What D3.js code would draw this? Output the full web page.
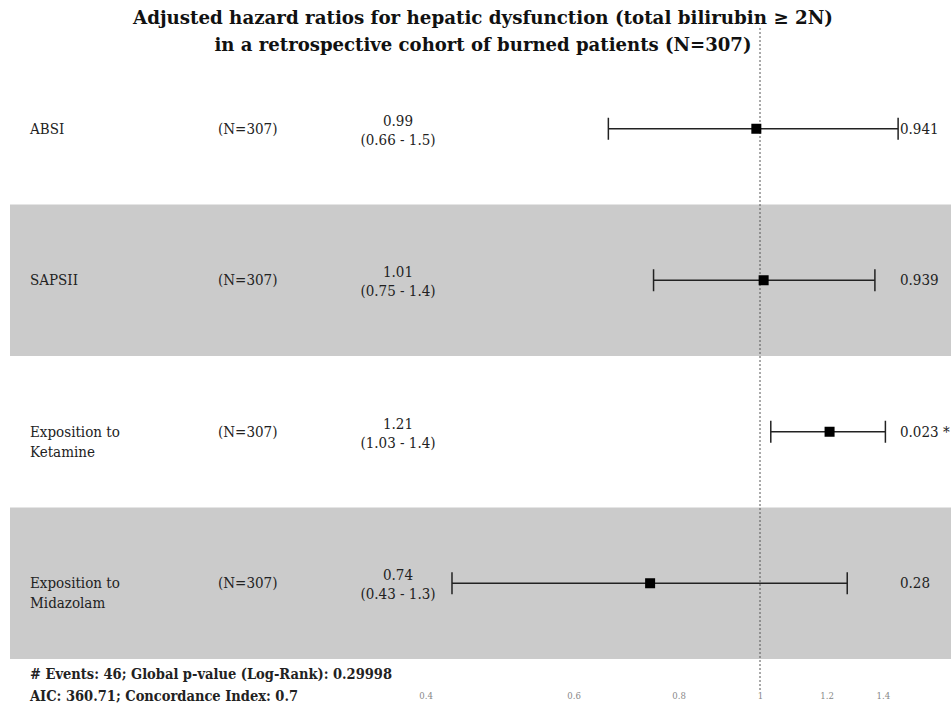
<!DOCTYPE html>
<html>
<head>
<meta charset="utf-8">
<script src="https://cdn.jsdelivr.net/npm/d3@7"></script>
<style>
  html, body { margin: 0; padding: 0; background: #fff; }
  svg { display: block; }
</style>
</head>
<body>
<svg id="chart" width="951" height="713"></svg>
<script>
// ---- data ----
const titleLines = [
  "Adjusted hazard ratios for hepatic dysfunction (total bilirubin \u2265 2N)",
  "in a retrospective cohort of burned patients (N=307)"
];
const variables = [["ABSI"], ["SAPSII"], ["Exposition to", "Ketamine"], ["Exposition to", "Midazolam"]];
const nLabels = ["(N=307)", "(N=307)", "(N=307)", "(N=307)"];
const hazardRatios = [0.99, 1.01, 1.21, 0.74];
const ciLower = [0.66, 0.747, 1.03, 0.43];
const ciUpper = [1.46, 1.37, 1.41, 1.27];
const hrLabels = ["0.99", "1.01", "1.21", "0.74"];
const ciLabels = ["(0.66 - 1.5)", "(0.75 - 1.4)", "(1.03 - 1.4)", "(0.43 - 1.3)"];
const pValues = ["0.941", "0.939", "0.023 *", "0.28"];
const tickValues = [0.4, 0.6, 0.8, 1, 1.2, 1.4];
const tickLabels = ["0.4", "0.6", "0.8", "1", "1.2", "1.4"];
const footnotes = [
  "# Events: 46; Global p-value (Log-Rank): 0.29998",
  "AIC: 360.71; Concordance Index: 0.7"
];

// ---- layout ----
const svg = d3.select("#chart");
const FONT = "'DejaVu Serif Condensed', 'DejaVu Serif', serif";

const x = d3.scaleLog().domain([0.4, 1.4]).range([425.6, 882.8]);
const y = d3.scaleBand().domain(d3.range(variables.length)).range([53, 659]).padding(0);

// bands
svg.append("g").selectAll("rect")
  .data(d3.range(variables.length))
  .join("rect")
  .attr("x", 10)
  .attr("y", i => y(i))
  .attr("width", 951)
  .attr("height", y.bandwidth())
  .attr("fill", i => i % 2 === 1 ? "#cbcbcb" : "#ffffff");

// reference line at HR = 1
svg.append("line")
  .attr("x1", x(1)).attr("x2", x(1))
  .attr("y1", 28).attr("y2", 690)
  .attr("stroke", "#555").attr("stroke-width", 1)
  .attr("stroke-dasharray", "2,2");

// title
const titleWidths = [700, 537];
svg.append("g").selectAll("text")
  .data(titleLines)
  .join("text")
  .attr("x", 483)
  .attr("y", (d, i) => 24 + i * 27)
  .attr("text-anchor", "middle")
  .attr("font-family", FONT)
  .attr("font-weight", "bold")
  .attr("font-size", 18.5)
  .attr("fill", "#111")
  .attr("textLength", (d, i) => titleWidths[i])
  .attr("lengthAdjust", "spacingAndGlyphs")
  .text(d => d);

const rows = svg.append("g").selectAll("g")
  .data(d3.range(variables.length))
  .join("g")
  .attr("transform", i => `translate(0,${y(i) + y.bandwidth() / 2})`);

const BODY = 15;
// variable names
rows.append("text")
  .attr("font-family", FONT).attr("font-size", BODY).attr("fill", "#222")
  .selectAll("tspan")
  .data(i => variables[i])
  .join("tspan")
  .attr("x", 30)
  .attr("y", (d, j) => 5 + j * 20)
  .text(d => d);

// N labels
rows.append("text")
  .attr("x", 218).attr("y", 5)
  .attr("font-family", FONT).attr("font-size", BODY).attr("fill", "#222")
  .text(i => nLabels[i]);

// estimates
rows.append("text")
  .attr("x", 398).attr("y", -3)
  .attr("text-anchor", "middle")
  .attr("font-family", FONT).attr("font-size", BODY).attr("fill", "#222")
  .text(i => hrLabels[i]);
rows.append("text")
  .attr("x", 398).attr("y", 16)
  .attr("text-anchor", "middle")
  .attr("font-family", FONT).attr("font-size", BODY).attr("fill", "#222")
  .text(i => ciLabels[i]);

// error bars
rows.append("line")
  .attr("x1", i => x(ciLower[i])).attr("x2", i => x(ciUpper[i]))
  .attr("y1", 0).attr("y2", 0)
  .attr("stroke", "#222").attr("stroke-width", 1.5);
rows.append("line")
  .attr("x1", i => x(ciLower[i])).attr("x2", i => x(ciLower[i]))
  .attr("y1", -11).attr("y2", 11)
  .attr("stroke", "#222").attr("stroke-width", 1.5);
rows.append("line")
  .attr("x1", i => x(ciUpper[i])).attr("x2", i => x(ciUpper[i]))
  .attr("y1", -11).attr("y2", 11)
  .attr("stroke", "#222").attr("stroke-width", 1.5);
rows.append("rect")
  .attr("x", i => x(hazardRatios[i]) - 5)
  .attr("y", -5)
  .attr("width", 10).attr("height", 10)
  .attr("fill", "#000");

// p-values
rows.append("text")
  .attr("x", 900).attr("y", 5)
  .attr("font-family", FONT).attr("font-size", BODY).attr("fill", "#222")
  .text(i => pValues[i]);

// axis
const axis = d3.axisBottom(x)
  .tickValues(tickValues)
  .tickFormat((d, i) => tickLabels[i])
  .tickSize(0)
  .tickPadding(0);
const ag = svg.append("g").attr("transform", "translate(0,692)").call(axis);
ag.select(".domain").remove();
ag.selectAll("text")
  .attr("font-family", FONT).attr("font-size", 9.5).attr("fill", "#888");

// footnotes
svg.append("g").selectAll("text")
  .data(footnotes)
  .join("text")
  .attr("x", 30)
  .attr("y", (d, i) => 679 + i * 22)
  .attr("font-family", FONT).attr("font-size", 14.5).attr("font-weight", "bold").attr("fill", "#222")
  .text(d => d);
</script>
</body>
</html>
